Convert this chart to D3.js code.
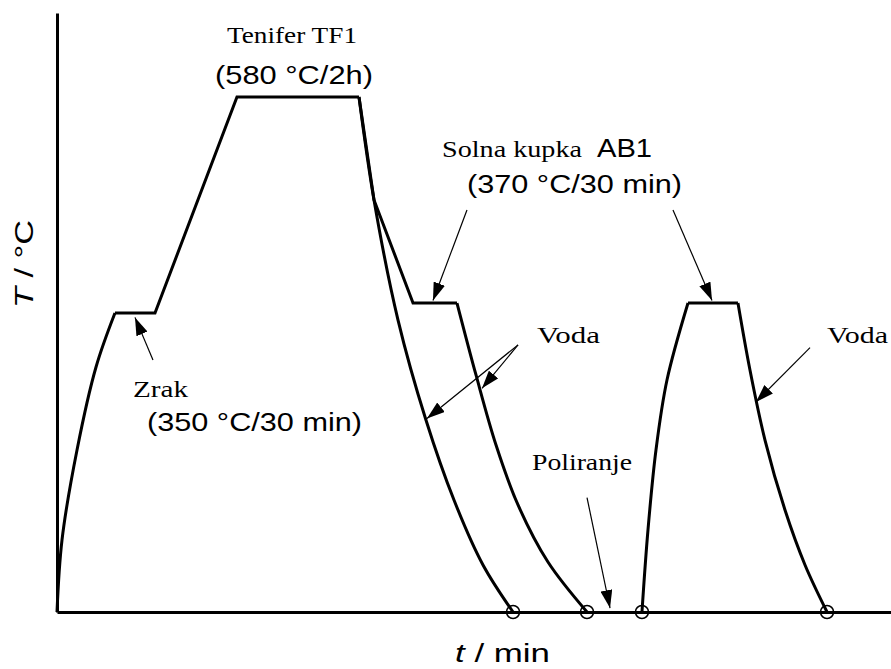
<!DOCTYPE html>
<html>
<head>
<meta charset="utf-8">
<script src="https://cdn.jsdelivr.net/npm/d3@7/dist/d3.min.js"></script>
<style>
  body { margin: 0; background: #fff; }
  svg { display: block; }
</style>
</head>
<body>
<div id="chart"></div>
<script>
// schematic time (arbitrary units) / temperature (°C)
const airRise = [[0, 0], [0.6, 81.1], [2.4, 182.6], [4.68, 276.1], [6.95, 336.9]];
const nitrideRun = [[6.95, 336.9], [11.75, 336.9], [21.58, 580.3], [36.21, 580.3]];
const quenchDirect = [[36.21, 580.3], [38.01, 464.3], [40.89, 329.0], [44.24, 216.4], [47.6, 126.2], [51.08, 53.0], [54.68, 0]];
const saltStep = [[36.21, 580.3], [38.01, 464.3], [42.69, 348.2], [47.96, 348.2]];
const quenchSalt = [[47.96, 348.2], [50.24, 267.1], [52.64, 188.2], [55.28, 120.6], [58.87, 56.3], [63.55, 0]];
const reheatRise = [[70.14, 0], [70.86, 92.4], [71.82, 182.6], [73.14, 261.4], [75.66, 348.2]];
const reheatHold = [[75.66, 348.2], [81.65, 348.2]];
const quenchFinal = [[81.65, 348.2], [83.09, 272.7], [84.89, 193.8], [87.29, 114.9], [89.69, 53.0], [92.33, 0]];
const endPoints = [54.68, 63.55, 70.14, 92.33];

const width = 891, height = 669;
const x = d3.scaleLinear().domain([0, 100]).range([57, 891]);
const y = d3.scaleLinear().domain([0, 675]).range([612, 13]);

const svg = d3.select("#chart").append("svg")
  .attr("width", width)
  .attr("height", height);

const defs = svg.append("defs");
defs.append("marker")
  .attr("id", "head")
  .attr("viewBox", "0 0 18 12")
  .attr("refX", 18).attr("refY", 6)
  .attr("markerWidth", 18).attr("markerHeight", 12)
  .attr("markerUnits", "userSpaceOnUse")
  .attr("orient", "auto")
  .append("path")
  .attr("d", "M0,0 L18,6 L0,12 Z")
  .attr("fill", "#000");

// axes without ticks
svg.append("g")
  .attr("transform", `translate(0,${y(0)})`)
  .call(d3.axisBottom(x).ticks(0).tickSizeOuter(0))
  .call(g => g.select(".domain").attr("stroke", "#000").attr("stroke-width", 3));
svg.append("g")
  .attr("transform", `translate(${x(0)},0)`)
  .call(d3.axisLeft(y).ticks(0).tickSizeOuter(0))
  .call(g => g.select(".domain").attr("stroke", "#000").attr("stroke-width", 3));

const smooth = d3.line().x(d => x(d[0])).y(d => y(d[1])).curve(d3.curveCatmullRom.alpha(0.5));
const straight = d3.line().x(d => x(d[0])).y(d => y(d[1]));

const segments = [
  [airRise, smooth], [nitrideRun, straight], [quenchDirect, smooth], [saltStep, straight],
  [quenchSalt, smooth], [reheatRise, smooth], [reheatHold, straight], [quenchFinal, smooth]
];
segments.forEach(([pts, gen]) => {
  svg.append("path")
    .attr("d", gen(pts))
    .attr("fill", "none")
    .attr("stroke", "#000")
    .attr("stroke-width", 3)
    .attr("stroke-linejoin", "miter");
});

svg.selectAll(".endpt")
  .data(endPoints)
  .join("circle")
  .attr("class", "endpt")
  .attr("cx", d => x(d))
  .attr("cy", y(0))
  .attr("r", 6.5)
  .attr("fill", "none")
  .attr("stroke", "#000")
  .attr("stroke-width", 1.5);

// arrows: [tail, tip] in data units
const arrows = [
  [[11.51, 284], [9.35, 332]],
  [[49.16, 453], [45.08, 351]],
  [[73.86, 453], [78.54, 351]],
  [[55.28, 301], [44.36, 218]],
  [[55.28, 301], [50.96, 252]],
  [[90.29, 298], [83.81, 236.6]],
  [[63.55, 129], [66.31, 4.5]]
];
svg.selectAll(".arrow")
  .data(arrows)
  .join("line")
  .attr("class", "arrow")
  .attr("x1", d => x(d[0][0])).attr("y1", d => y(d[0][1]))
  .attr("x2", d => x(d[1][0])).attr("y2", d => y(d[1][1]))
  .attr("stroke", "#000")
  .attr("stroke-width", 1.2)
  .attr("marker-end", "url(#head)");

const serif = "'Liberation Serif', 'Times New Roman', serif";
const sans = "'Liberation Sans', Arial, sans-serif";

// [text, x, baseline, width, font, size]
const labels = [
  ["Tenifer TF1", 227, 43, 130, serif, 24],
  ["(580 °C/2h)", 215, 84, 158, sans, 26],
  ["Solna kupka", 442, 157, 140, serif, 24],
  ["AB1", 597, 157, 55, sans, 26],
  ["(370 °C/30 min)", 467, 193, 215, sans, 26],
  ["Zrak", 133, 397, 55, serif, 24],
  ["(350 °C/30 min)", 147, 431, 215, sans, 26],
  ["Voda", 537, 343, 63, serif, 24],
  ["Voda", 827, 343, 61, serif, 24],
  ["Poliranje", 532, 470, 100, serif, 24]
];
svg.selectAll(".lbl")
  .data(labels)
  .join("text")
  .attr("class", "lbl")
  .attr("x", d => d[1])
  .attr("y", d => d[2])
  .attr("textLength", d => d[3])
  .attr("lengthAdjust", "spacingAndGlyphs")
  .style("font-family", d => d[4])
  .style("font-size", d => d[5] + "px")
  .attr("fill", "#000")
  .text(d => d[0]);

// axis titles
const xt = svg.append("text")
  .attr("x", 455).attr("y", 662)
  .attr("textLength", 95)
  .attr("lengthAdjust", "spacingAndGlyphs")
  .style("font-family", sans)
  .style("font-size", "26px");
xt.append("tspan").style("font-style", "italic").text("t");
xt.append("tspan").text(" / min");

const yt = svg.append("text")
  .attr("transform", "translate(33,308) rotate(-90)")
  .attr("textLength", 88)
  .attr("lengthAdjust", "spacingAndGlyphs")
  .style("font-family", sans)
  .style("font-size", "26px");
yt.append("tspan").style("font-style", "italic").text("T");
yt.append("tspan").text(" / °C");
</script>
</body>
</html>
